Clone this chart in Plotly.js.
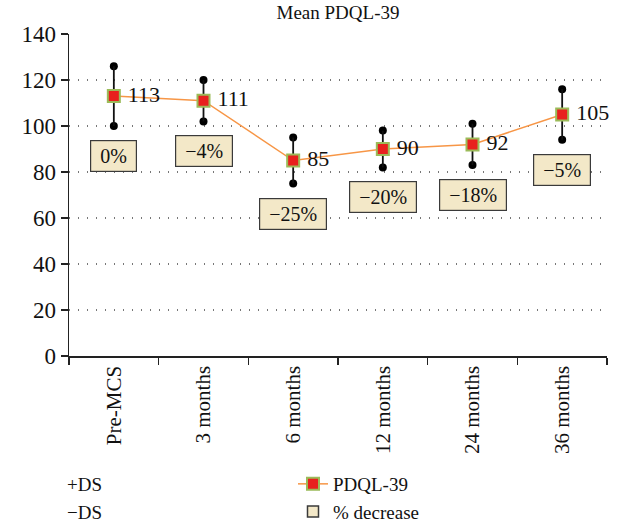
<!DOCTYPE html>
<html>
<head>
<meta charset="utf-8">
<script src="https://cdn.plot.ly/plotly-3.0.1.min.js"></script>
<style>html,body{margin:0;padding:0;background:#fff;}#chart{width:619px;height:524px;}</style>
</head>
<body>
<div id="chart"></div>
<script>
const categories = ['Pre-MCS', '3 months', '6 months', '12 months', '24 months', '36 months'];
const meanValues = [113, 111, 85, 90, 92, 105];
const plusDS = [126, 120, 95, 98, 101, 116];
const minusDS = [100, 102, 75, 82, 83, 94];
const pctDecrease = ['0%', '\u22124%', '\u221225%', '\u221220%', '\u221218%', '\u22125%'];
const yTickValues = [0, 20, 40, 60, 80, 100, 120, 140];

const FONT = 'Liberation Serif';
const boxFill = '#f3e8c8';
const boxLine = '#3a3a3a';
const hidden = 'rgba(0,0,0,0)';

const traces = [
  {type: 'scatter', mode: 'markers', x: [null], y: [null], name: '+DS',
   marker: {size: 1, color: hidden, line: {width: 0, color: hidden}}, legendrank: 1, hoverinfo: 'skip'},
  {type: 'scatter', mode: 'markers', x: [null], y: [null], name: '\u2212DS',
   marker: {size: 1, color: hidden, line: {width: 0, color: hidden}}, legendrank: 3, hoverinfo: 'skip'},
  {type: 'scatter', mode: 'markers', x: [null], y: [null], name: '% decrease',
   marker: {symbol: 'square', size: 11, color: boxFill, line: {color: boxLine, width: 1.5}}, legendrank: 4},
  {type: 'scatter', mode: 'markers', x: categories, y: plusDS, showlegend: false,
   marker: {size: 8, color: 'black'}},
  {type: 'scatter', mode: 'markers', x: categories, y: minusDS, showlegend: false,
   marker: {size: 8, color: 'black'}},
  {type: 'scatter', mode: 'lines+markers+text', x: categories, y: meanValues, name: 'PDQL-39',
   legendrank: 2, cliponaxis: false,
   text: meanValues.map(v => ' ' + v), textposition: 'middle right',
   textfont: {family: FONT, size: 22, color: '#111'},
   line: {color: '#f79646', width: 1.5},
   marker: {symbol: 'square', size: 12, color: '#e8201e', line: {color: '#9bbb59', width: 2}},
   error_y: {type: 'data', symmetric: false,
     array: plusDS.map((v, i) => v - meanValues[i]),
     arrayminus: meanValues.map((v, i) => v - minusDS[i]),
     color: '#111', thickness: 1.8, width: 0}}
];

const annotations = categories.map((c, i) => ({
  x: c, y: minusDS[i], xref: 'x', yref: 'y', yanchor: 'top', yshift: -14,
  text: ' ' + pctDecrease[i] + ' ', showarrow: false,
  font: {family: FONT, size: 20, color: '#111'},
  bgcolor: boxFill, bordercolor: boxLine, borderwidth: 1.2, borderpad: 4, height: 22
}));

const layout = {
  width: 619, height: 524,
  margin: {l: 69, r: 12, t: 34, b: 168},
  paper_bgcolor: '#fff', plot_bgcolor: '#fff',
  font: {family: FONT, color: '#111'},
  title: {text: 'Mean PDQL-39', font: {family: FONT, size: 19, color: '#111'},
          x: 0.5, xref: 'paper', y: 0.977, yanchor: 'middle'},
  xaxis: {type: 'category', range: [-0.5, 5.5], tickson: 'boundaries', ticks: 'outside',
          ticklen: 7, tickcolor: '#222', tickwidth: 1.5, tickangle: -90,
          showline: true, linecolor: '#222', linewidth: 1.5, showgrid: false, zeroline: false,
          tickfont: {family: FONT, size: 21, color: '#111'}, fixedrange: true},
  yaxis: {range: [0, 140], tickvals: yTickValues, ticks: 'outside', ticklen: 7,
          tickcolor: '#222', tickwidth: 1.5, showline: true, linecolor: '#222', linewidth: 1.5,
          showgrid: true, gridcolor: '#777', gridwidth: 1.3, griddash: '1.3px,7.7px',
          zeroline: false, tickfont: {family: FONT, size: 23, color: '#111'}},
  showlegend: true,
  legend: {orientation: 'h', xref: 'container', x: 27 / 619, xanchor: 'left',
           yref: 'container', y: 1 - 465 / 524, yanchor: 'top',
           entrywidth: 221, entrywidthmode: 'pixels', traceorder: 'normal',
           font: {family: FONT, size: 19, color: '#111'}, bgcolor: 'rgba(0,0,0,0)'},
  annotations: annotations
};

Plotly.newPlot('chart', traces, layout, {displayModeBar: false, staticPlot: true});
</script>
</body>
</html>
